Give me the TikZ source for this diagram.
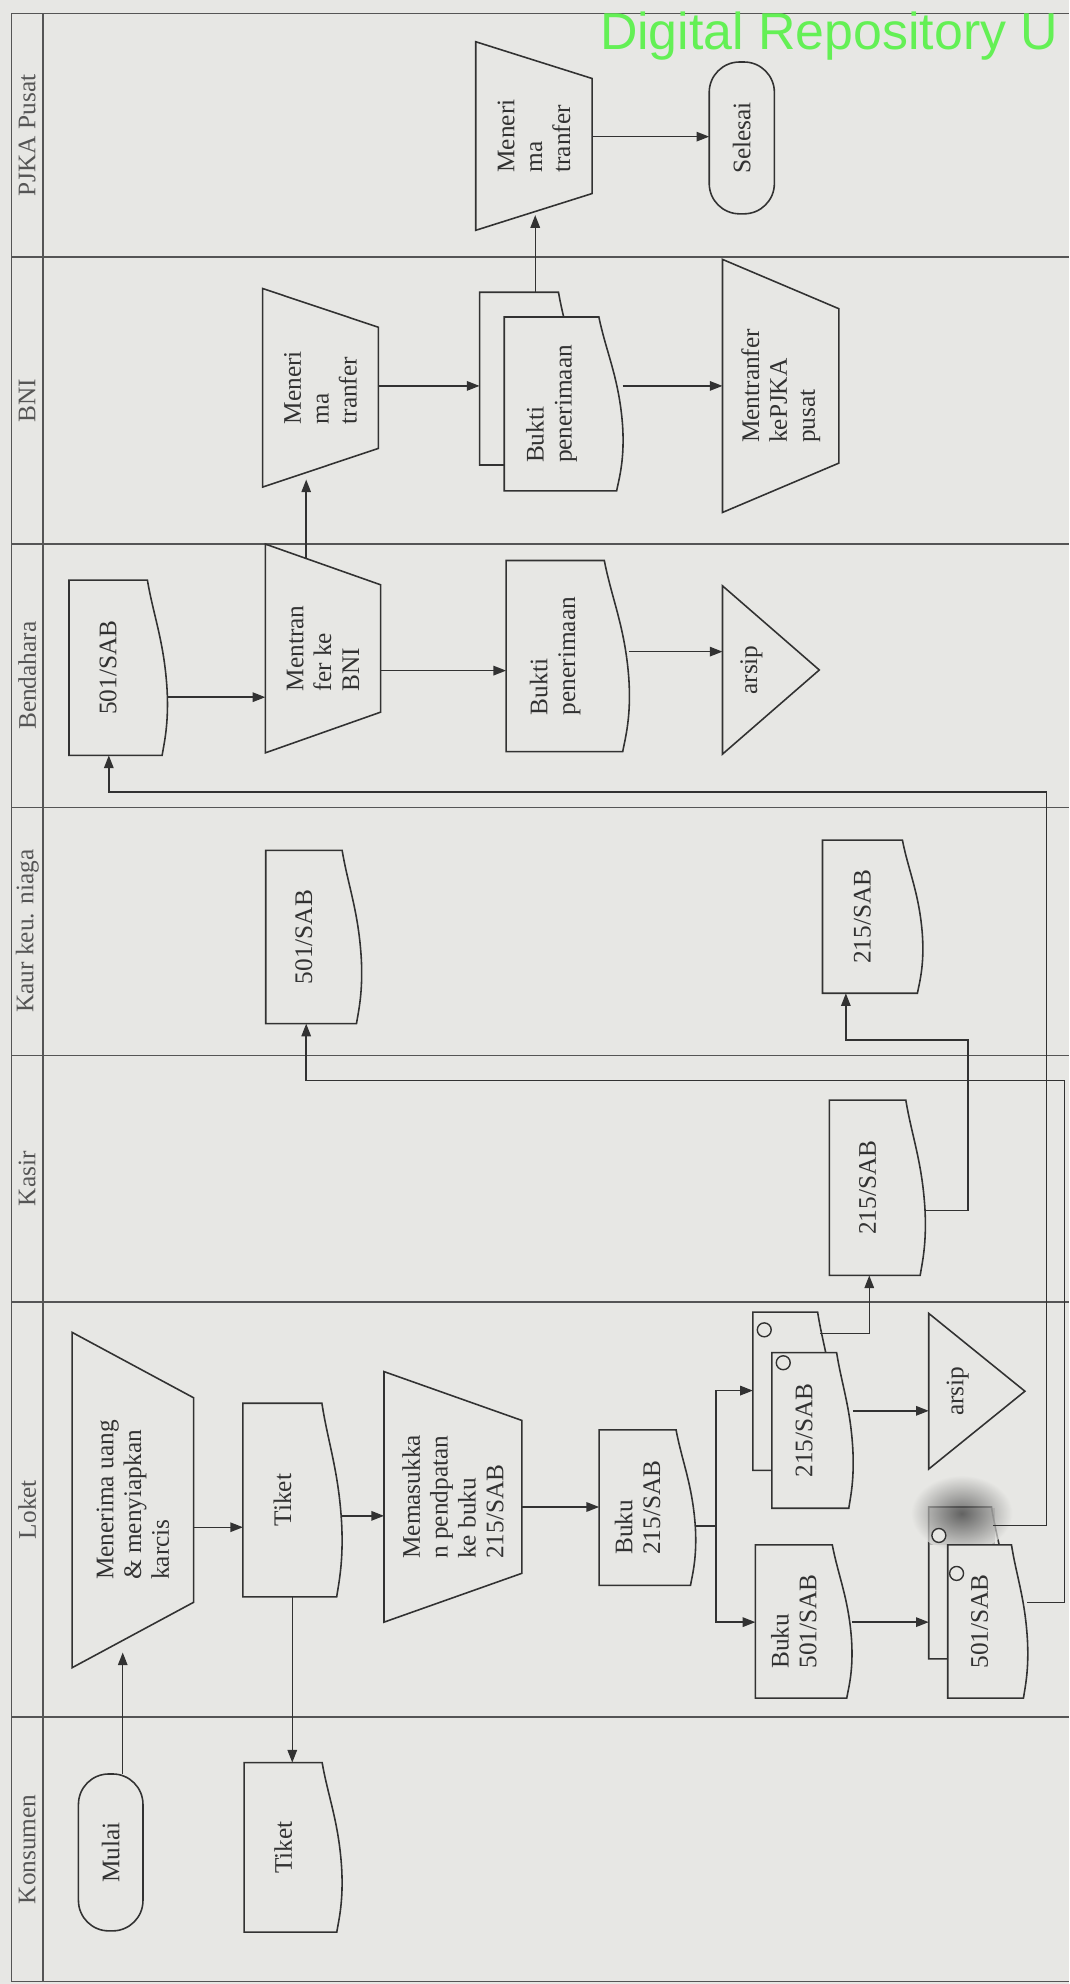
\documentclass[tikz,border=0pt]{standalone}
\usepackage{fontspec}
\setmainfont{Liberation Serif}
\newfontfamily\wmfont{Liberation Sans}
\usetikzlibrary{arrows.meta,calc}
\definecolor{bg}{RGB}{231,231,228}
\definecolor{ink}{RGB}{50,50,50}
\definecolor{lanecol}{RGB}{85,85,85}
\definecolor{wm}{RGB}{100,240,85}

\tikzset{
 shp/.style={draw=ink, line width=1.25pt, fill=bg, line join=miter},
 frame/.style={rectangle, inner sep=0pt, outer sep=0pt},
 txt/.style={rotate=90, align=left, inner sep=0pt, text=ink, font=\fontsize{20}{22}\selectfont},
 term/.style={rectangle, draw=ink, line width=1.25pt, fill=bg, inner sep=0pt, outer sep=0pt, text=ink, font=\fontsize{20}{22}\selectfont},
 lbl/.style={rotate=90, inner sep=0pt, text=lanecol, font=\fontsize{20}{22}\selectfont},
 lanel/.style={draw=lanecol, line width=1.1pt},
 arr/.style={draw=ink, line width=1.15pt, -{Triangle[length=10pt,width=7.5pt]}},
 ln/.style={draw=ink, line width=1.15pt},
 circ/.style={circle, draw=ink, fill=bg, line width=1.1pt, minimum size=11pt, inner sep=0pt},
}

% document outline: x1 y1 x2 y2
\newcommand\docoutline[4]{%
 \path[shp] (#1,#2) -- ({#1+0.8*(#3-#1)},#2)
   .. controls ({#1+0.86*(#3-#1)},{#2+0.2*(#4-#2)}) and ({#1+0.97*(#3-#1)},{#2+0.35*(#4-#2)}) .. (#3,{#2+0.62*(#4-#2)})
   .. controls ({#1+1.02*(#3-#1)},{#2+0.82*(#4-#2)}) and ({#1+0.97*(#3-#1)},{#2+0.93*(#4-#2)}) .. ({#1+0.95*(#3-#1)},#4)
   -- (#1,#4) -- cycle;}
\newcommand\docback[5]{%
 \docoutline{#2}{#3}{#4}{#5}%
 \node[frame, minimum width={(#4-#2)*1pt}, minimum height={(#5-#3)*1pt}] (#1) at ({(#2+#4)/2},{(#3+#5)/2}) {};}
\newcommand\docnode[6]{%
 \docback{#1}{#2}{#3}{#4}{#5}%
 \node[txt] (#1-t) at ({#2+0.4*(#4-#2)},{(#3+#5)/2}) {#6};}
\newcommand\trapnode[6]{%
 \path[shp] (#2,#3) -- (#4,{#3+0.195*(#5-#3)}) -- (#4,{#5-0.195*(#5-#3)}) -- (#2,#5) -- cycle;
 \node[frame, minimum width={(#4-#2)*1pt}, minimum height={(#5-#3)*1pt}] (#1) at ({(#2+#4)/2},{(#3+#5)/2}) {};
 \node[txt] (#1-t) at ({(#2+#4)/2},{(#3+#5)/2}) {#6};}
\newcommand\trinode[6]{%
 \path[shp] (#2,#3) -- (#4,{(#3+#5)/2}) -- (#2,#5) -- cycle;
 \node[frame, minimum width={(#4-#2)*1pt}, minimum height={(#5-#3)*1pt}] (#1) at ({(#2+#4)/2},{(#3+#5)/2}) {};
 \node[txt] (#1-t) at ({#2+0.3*(#4-#2)},{(#3+#5)/2}) {#6};}

\begin{document}
\begin{tikzpicture}[x=1pt,y=-1pt]
\useasboundingbox (0,0) rectangle (845,1568);
\fill[bg] (0,0) rectangle (845,1568);

% swimlane frame
\draw[lanel] (9,10.5) -- (845,10.5);
\foreach \yy in {203,430,638,834,1029,1357} \draw[lanel] (9,\yy) -- (845,\yy);
\draw[lanel] (9,1566) -- (845,1566);
\draw[lanel] (9,10.5) -- (9,1566);
\draw[lanel] (34,10.5) -- (34,1566);

\node[lbl] (lPJKA) at (21.5,107) {PJKA Pusat};
\node[lbl] (lBNI) at (21.5,316.5) {BNI};
\node[lbl] (lBend) at (21.5,534) {Bendahara};
\node[lbl] (lKaur) at (21.5,736) {Kaur keu. niaga};
\node[lbl] (lKasir) at (21.5,931.5) {Kasir};
\node[lbl] (lLoket) at (21.5,1193) {Loket};
\node[lbl] (lKons) at (21.5,1461.5) {Konsumen};

% PJKA Pusat
\trapnode{pterima}{376}{33}{468}{182}{Meneri\\ma\\tranfer}
\node[term, rounded corners=24pt, minimum width=51.5pt, minimum height=120pt] (selesai) at (586.25,109) {\rotatebox{90}{Selesai}};

% BNI
\trapnode{nterima}{207.5}{228}{299}{385}{Meneri\\ma\\tranfer}
\docback{nbuktib}{379}{231}{457}{367.5}
\docnode{nbuktif}{398.5}{250.5}{492}{388}{Bukti\\penerimaan}
\trapnode{ntrans}{571}{205}{663}{405}{Mentranfer\\kePJKA\\pusat}

% Bendahara
\docnode{b501}{54.5}{458.5}{132}{597}{501/SAB}
\trapnode{btrans}{209.7}{430}{300.8}{595}{Mentran\\fer ke\\BNI}
\docnode{bbukti}{400}{443}{497}{594}{Bukti\\penerimaan}
\trinode{barsip}{571}{463}{647.5}{596}{arsip}

% Kaur keu. niaga
\docnode{kr501}{210}{672}{285.5}{809}{501/SAB}
\docnode{kr215}{650}{664}{729}{785}{215/SAB}

% Kasir
\docnode{k215}{655.5}{869.5}{731}{1008}{215/SAB}

% Loket
\trapnode{terima}{57}{1053}{153}{1318}{Menerima uang\\\& menyiapkan\\karcis}
\docnode{tiketL}{192}{1109}{270}{1262}{Tiket}
\trapnode{masuk}{303.5}{1084}{412.5}{1282}{Memasukka\\n pendpatan\\ke buku\\215/SAB}
\docnode{buku215}{473.5}{1130}{549.5}{1253}{Buku\\215/SAB}
\docback{s215b}{595}{1037}{659}{1162}
\docnode{s215f}{610}{1069}{674}{1192}{215/SAB}
\node[circ] (c215b) at (604,1051) {};
\node[circ] (c215f) at (619,1077) {};
\trinode{arsipL}{734}{1038}{810}{1161}{arsip}
\docnode{buku501}{597}{1221}{673}{1342}{Buku\\501/SAB}
\docback{s501b}{734}{1191}{796}{1311}
\fill[black!45, opacity=0.55] (734.6,1191.6) rectangle (786,1221);
\shade[inner color=black!75, outer color=bg, opacity=0.7] (760,1196) ellipse [x radius=40pt, y radius=30pt];
\docnode{s501f}{749}{1221}{812}{1342}{501/SAB}
\node[circ] (c501b) at (742,1213.5) {};
\node[circ] (c501f) at (756,1243.5) {};

% Konsumen
\node[term, rounded corners=24pt, minimum width=51pt, minimum height=124pt] (mulai) at (87.5,1464) {\rotatebox{90}{Mulai}};
\docnode{tiketK}{193}{1393}{270}{1527}{Tiket}

% connectors
\coordinate (tIn) at (97,1306);
\draw[arr] (mulai.north -| tIn) -- (tIn);
\draw[arr] (terima.east |- 0,1207) -- (tiketL.west |- 0,1207);
\draw[arr] (tiketL.south) -- (tiketL.south |- tiketK.north);
\draw[arr] (tiketL.east |- 0,1198) -- (masuk.west |- 0,1198);
\draw[arr] (masuk.east |- 0,1191) -- (buku215.west |- 0,1191);
\coordinate (br) at (566,1206);
\draw[ln] (buku215.east |- br) -- (br);
\draw[arr] (br) |- (s215b.west |- 0,1099);
\draw[arr] (br) |- (buku501.west |- 0,1282);
\draw[arr] (s215f.east |- 0,1115) -- (arsipL.west |- 0,1115);
\draw[arr] (buku501.east |- 0,1282) -- (s501b.west |- 0,1282);
\coordinate (s215bR) at (648,1054);
\draw[arr] (s215bR) -| (k215.south -| 687,0);
\draw[arr] (k215.east |- 0,956.5) -- (765,956.5) -- (765,822) -| (kr215.south -| 668.5,0);
\coordinate (s501bR) at (785,1205.5);
\draw[arr] (s501bR) -- (827,1205.5) -- (827,626) -| (b501.south -| 86,0);
\draw[arr] (s501f.east |- 0,1266.5) -- (841.5,1266.5) -- (841.5,854) -| (kr501.south -| 242,0);
\draw[arr] (b501.east |- 0,551) -- (btrans.west |- 0,551);
\draw[arr] (btrans.east |- 0,530) -- (bbukti.west |- 0,530);
\draw[arr] (bbukti.east |- 0,515) -- (barsip.west |- 0,515);
\coordinate (bOut) at (242,441);
\coordinate (nIn) at (242,379);
\draw[arr] (bOut) -- (nIn);
\draw[arr] (nterima.east |- 0,305) -- (nbuktib.west |- 0,305);
\draw[arr] (nbuktif.east |- 0,305) -- (ntrans.west |- 0,305);
\coordinate (pIn) at (423,170);
\draw[arr] (nbuktib.north -| pIn) -- (pIn);
\draw[arr] (pterima.east |- 0,108) -- (selesai.west |- 0,108);

% watermark
\node[anchor=base west, inner sep=0pt, text=wm, font=\wmfont\fontsize{41}{41}\selectfont] (wmark) at (474,39) {Digital Repository U};
\end{tikzpicture}
\end{document}
